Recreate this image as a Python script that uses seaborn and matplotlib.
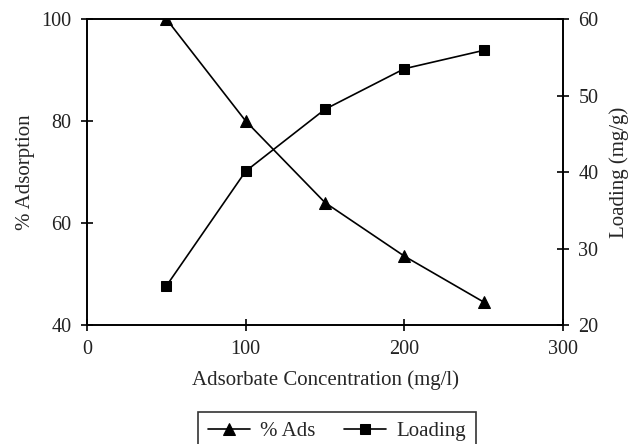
import matplotlib
matplotlib.use("Agg")
import matplotlib.pyplot as plt
import seaborn as sns
import pandas as pd

# Adsorbate concentration (mg/l)
concentration = [50, 100, 150, 200, 250]
# Percentage adsorption
pct_ads = [100.0, 80.0, 64.0, 53.5, 44.5]
# Loading (mg/g)
loading = [25.1, 40.1, 48.2, 53.5, 55.9]

df = pd.DataFrame({"conc": concentration, "ads": pct_ads, "load": loading})

sns.set_theme(style="ticks")
plt.rcParams["font.family"] = ["Liberation Serif", "DejaVu Serif"]

fig = plt.figure(figsize=(6.33, 4.44), dpi=100)
ax = fig.add_axes([87 / 633, 1 - 325 / 444, (563 - 87) / 633, (325 - 19) / 444])
ax2 = ax.twinx()

sns.lineplot(data=df, x="conc", y="ads", ax=ax, color="black", lw=1.2,
             marker="^", markersize=9, markeredgecolor="black", label="% Ads",
             legend=False)
sns.lineplot(data=df, x="conc", y="load", ax=ax2, color="black", lw=1.2,
             marker="s", markersize=7, markeredgecolor="black", label="Loading",
             legend=False)

ax.set_xlim(0, 300)
ax.set_ylim(40, 100)
ax2.set_ylim(20, 60)
ax.set_xticks([0, 100, 200, 300])
ax.set_yticks([40, 60, 80, 100])
ax2.set_yticks([20, 30, 40, 50, 60])

for a in (ax, ax2):
    for s in a.spines.values():
        s.set_color("black")
        s.set_linewidth(1.2)
    a.tick_params(direction="inout", length=8, width=1.2, colors="black",
                  labelsize=14.5, labelcolor="#222222", pad=7)

ax.set_xlabel("Adsorbate Concentration (mg/l)", fontsize=15, labelpad=8)
ax.set_ylabel("% Adsorption", fontsize=15, labelpad=5)
ax2.set_ylabel("Loading (mg/g)", fontsize=15, labelpad=8)

h1, l1 = ax.get_legend_handles_labels()
h2, l2 = ax2.get_legend_handles_labels()
leg = fig.legend(h1 + h2, l1 + l2, loc="upper center",
                 bbox_to_anchor=(337 / 633, 1 - 402 / 444), ncol=2,
                 frameon=True, fancybox=False, edgecolor="black",
                 fontsize=15, handlelength=2.0, handletextpad=0.5,
                 columnspacing=1.4, borderpad=0.45)
leg.get_frame().set_linewidth(1.2)

fig.savefig("out.png", dpi=100)
